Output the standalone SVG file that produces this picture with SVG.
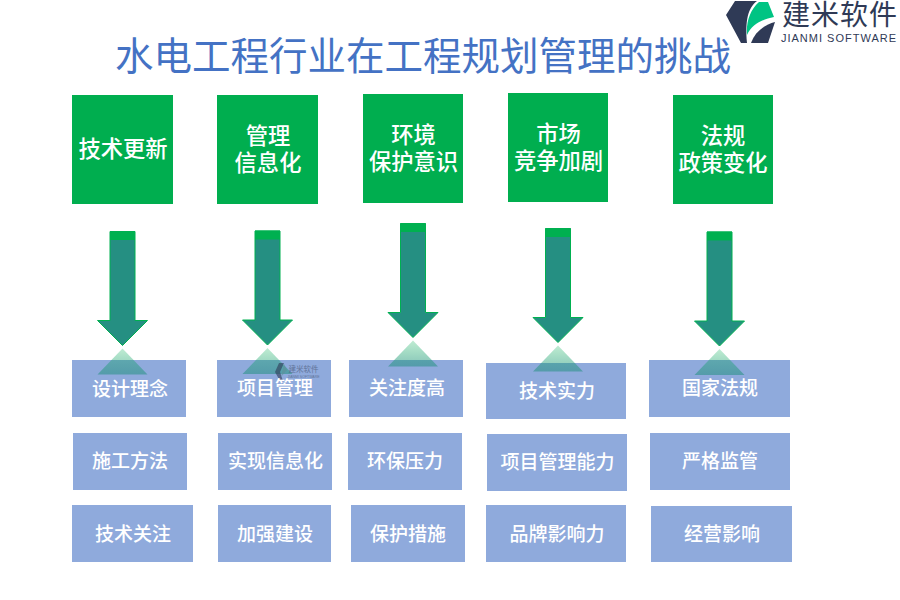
<svg xmlns="http://www.w3.org/2000/svg" width="900" height="600" viewBox="0 0 900 600">
<style>
text{font-family:"Noto Sans CJK SC","Liberation Sans",sans-serif;text-anchor:middle}
.g{fill:#00ae4f}
.b{fill:#8faadc}
.gt{fill:#fff;font-size:22.300px;font-weight:500}
.bt{fill:#fff;font-size:19px;font-weight:500}
.sh{fill:#258f82;stroke:#00b050;stroke-width:1}
.top{fill:#00b050}
.ref{fill:url(#fade)}
.dk{fill:#2f3a56}
</style>
<defs>
<linearGradient id="fade" x1="0" y1="0" x2="0" y2="1">
<stop offset="0" stop-color="#00b050" stop-opacity=".25"/>
<stop offset="1" stop-color="#258f82" stop-opacity=".55"/>
</linearGradient>
<g id="arrow">
<path class="sh" d="M-12.500 .5H12.500V89.500H25L0 114.500L-25 89.500H-12.500Z"/>
<rect class="top" x="-12.500" y="0" width="25" height="9"/>
</g>
<path id="refl" class="ref" d="M0 117.500L25 143.500H-25Z"/>
</defs>
<g id="title"><text x="423" y="70" font-size="38.500" fill="#4472c4">水电工程行业在工程规划管理的挑战</text></g>
<g id="logo">
<path class="dk" d="M735 1H757C748 8 745 20 747 43H741L726 15Z"/>
<path d="M759 2H768L774 17C763 19 752 24 747 35C746 22 750 10 759 2Z" fill="#00c483"/>
<path class="dk" d="M751 43C755 32 764 25 775 22L768 43Z"/>
<text x="840" y="25" font-size="28" letter-spacing="1" fill="#2f3a56">建米软件</text>
<text x="838.500" y="42" font-size="11" textLength="115" fill="#2f3a56" style="font-family:'Liberation Sans',sans-serif">JIANMI SOFTWARE</text>
</g>
<g id="h1"><rect class="g" x="72" y="95" width="101" height="109"/><text class="gt" x="123" y="157">技术更新</text></g>
<g id="h2"><rect class="g" x="217" y="95" width="101" height="109"/><text class="gt" x="268" y="144">管理<tspan x="268" dy="27">信息化</tspan></text></g>
<g id="h3"><rect class="g" x="363" y="94" width="100" height="109"/><text class="gt" x="413.500" y="143">环境<tspan x="413.500" dy="26.500">保护意识</tspan></text></g>
<g id="h4"><rect class="g" x="508" y="93" width="100" height="109"/><text class="gt" x="558.500" y="142">市场<tspan x="558.500" dy="27">竞争加剧</tspan></text></g>
<g id="h5"><rect class="g" x="673" y="95" width="100" height="109"/><text class="gt" x="723" y="144">法规<tspan x="723" dy="27">政策变化</tspan></text></g>
<g id="a1"><rect class="b" x="72" y="360" width="114" height="57"/></g>
<g id="a2"><rect class="b" x="217" y="360" width="114" height="57"/></g>
<g id="a3"><rect class="b" x="349" y="360" width="114" height="57"/></g>
<g id="a4"><rect class="b" x="486" y="363" width="140" height="56"/></g>
<g id="a5"><rect class="b" x="649" y="360" width="141" height="57"/></g>
<g id="connectors">
<use href="#arrow" x="122.500" y="231"/><use href="#refl" x="122.500" y="231"/>
<use href="#arrow" x="267.500" y="230.500"/><use href="#refl" x="267.500" y="230.500"/>
<use href="#arrow" x="413" y="223"/><use href="#refl" x="413" y="223"/>
<use href="#arrow" x="558" y="228"/><use href="#refl" x="558" y="228"/>
<use href="#arrow" x="719.500" y="231.500"/><use href="#refl" x="719.500" y="231.500"/>
</g>
<g id="watermark" opacity=".6">
<path class="dk" d="M279 363H284L280 372L283 381H280L275 372Z"/>
<path d="M284 364L287 370L281 377Z" fill="#5f8f9a"/>
<text x="303.500" y="372" font-size="7.500" fill="#44506e">建米软件</text>
<text x="303.500" y="378" font-size="3.500" fill="#44506e" style="font-family:'Liberation Sans',sans-serif">JIANMI SOFTWARE</text>
</g>
<g id="labels-row1">
<text class="bt" x="130" y="396">设计理念</text><text class="bt" x="275" y="395">项目管理</text><text class="bt" x="407" y="395">关注度高</text><text class="bt" x="557" y="398">技术实力</text><text class="bt" x="720" y="395">国家法规</text>
</g>
<g id="b1"><rect class="b" x="73" y="433" width="114" height="57"/><text class="bt" x="130" y="468">施工方法</text></g>
<g id="b2"><rect class="b" x="218" y="433" width="114" height="57"/><text class="bt" x="275.500" y="468">实现信息化</text></g>
<g id="b3"><rect class="b" x="348" y="433" width="114" height="57"/><text class="bt" x="405" y="468">环保压力</text></g>
<g id="b4"><rect class="b" x="487" y="434" width="140" height="57"/><text class="bt" x="557.500" y="469">项目管理能力</text></g>
<g id="b5"><rect class="b" x="650" y="433" width="140" height="57"/><text class="bt" x="720" y="468">严格监管</text></g>
<g id="c1"><rect class="b" x="72" y="505" width="121" height="57"/><text class="bt" x="133" y="541">技术关注</text></g>
<g id="c2"><rect class="b" x="218" y="505" width="113" height="57"/><text class="bt" x="275" y="541">加强建设</text></g>
<g id="c3"><rect class="b" x="351" y="505" width="114" height="57"/><text class="bt" x="408" y="541">保护措施</text></g>
<g id="c4"><rect class="b" x="486" y="505" width="140" height="57"/><text class="bt" x="557" y="541">品牌影响力</text></g>
<g id="c5"><rect class="b" x="651" y="506" width="141" height="56"/><text class="bt" x="722" y="541">经营影响</text></g>
</svg>
